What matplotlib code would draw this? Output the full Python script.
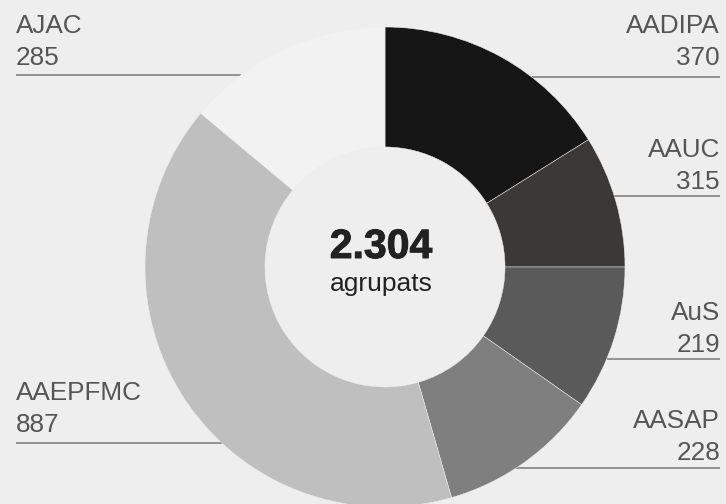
import numpy as np
import matplotlib
matplotlib.use("Agg")
import matplotlib.pyplot as plt
import matplotlib.patheffects as pe

# ---- data ----
categories = ["AADIPA", "AAUC", "AuS", "AASAP", "AAEPFMC", "AJAC"]
label_values = [370, 315, 219, 228, 887, 285]
# slice sizes as drawn in the reference (arc lengths)
slice_sizes = [371, 205, 224, 249, 934, 321]
colors = ["#161616", "#3a3938", "#5a5a5a", "#7f7f7f", "#bfbfbf", "#f2f2f2"]
total_text = "2.304"
sub_text = "agrupats"

# ---- layout (pixel units, y measured from top) ----
W, H = 726, 504
cx, cy, R, r_in = 385, 267, 240, 120
# (side, name baseline, value baseline, rule y)
label_layout = {
    "AADIPA": ("right", 33, 65, 77),
    "AAUC": ("right", 157, 189, 196),
    "AuS": ("right", 320, 352, 359),
    "AASAP": ("right", 428, 460, 468),
    "AAEPFMC": ("left", 400, 432, 443),
    "AJAC": ("left", 33, 65, 75),
}
bg = "#eeeeee"
txt_col = "#555555"
font = "Liberation Sans"

fig = plt.figure(figsize=(W / 100, H / 100), dpi=100, facecolor=bg)
ax = fig.add_axes([0, 0, 1, 1])
ax.set_facecolor(bg)

ax.pie(slice_sizes, colors=colors, startangle=90, counterclock=False,
       center=(cx, H - cy), radius=R, frame=True,
       wedgeprops=dict(width=R - r_in, edgecolor=bg, linewidth=0.35,
                       zorder=3))

ax.set_xlim(0, W)
ax.set_ylim(0, H)
ax.set_aspect("equal")
ax.axis("off")

for name, val in zip(categories, label_values):
    side, yb1, yb2, yl = label_layout[name]
    dy = yl - cy
    dx = np.sqrt(max(R ** 2 - dy ** 2, 0))
    if side == "left":
        xt, ha = 16, "left"
        x_end = cx - dx
    else:
        xt, ha = 720, "right"
        x_end = cx + dx
    ax.plot([xt, x_end], [H - yl, H - yl], color="#7a7a7a", lw=1.1,
            solid_capstyle="butt", zorder=1)
    ax.text(xt, H - yb1, name, ha=ha, va="baseline", fontsize=18.8,
            color=txt_col, family=font)
    ax.text(xt, H - yb2, str(val), ha=ha, va="baseline", fontsize=18.8,
            color=txt_col, family=font)

ax.text(381, H - 258, total_text, ha="center", va="baseline", fontsize=29.5,
        fontweight="bold", color="#222222", family=font, zorder=5,
        path_effects=[pe.withStroke(linewidth=0.7, foreground="#222222")])
ax.text(381, H - 291, sub_text, ha="center", va="baseline", fontsize=19,
        color="#222222", family=font, zorder=5)

fig.savefig("out.png", dpi=100, facecolor=bg)
